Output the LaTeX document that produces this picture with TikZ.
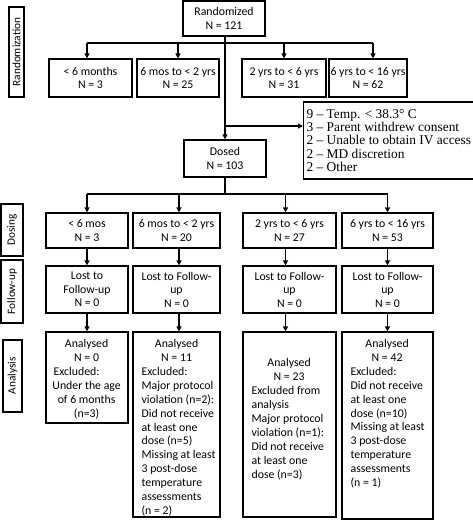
\documentclass[tikz,border=0pt]{standalone}
\usepackage{fontspec}
\setmainfont{Carlito}
\newfontfamily\tnr[Ligatures=TeX]{Liberation Serif}
\usetikzlibrary{arrows.meta,calc}
\begin{document}
\begin{tikzpicture}[x=1pt,y=-1pt,
  box/.style={draw, line width=1.2pt, inner sep=0pt, align=center, font=\fontsize{11.8}{13.5}\selectfont},
  side/.style={draw, line width=1.2pt, inner sep=0pt, rotate=90, font=\fontsize{11.3}{13}\selectfont},
  txt/.style={anchor=north west, inner sep=0pt, align=left, font=\fontsize{11.8}{13.95}\selectfont},
  arr/.style={line width=1.2pt, -{Triangle[length=5pt,width=5pt]}},
  ln/.style={line width=1.2pt}]
\useasboundingbox (0,0) rectangle (473,520);

% side labels
\node[side, minimum width=90pt, minimum height=15pt] (sr) at (16.5,52) {Randomization};
\node[side, minimum width=52pt, minimum height=22pt] (sd) at (12,230) {Dosing};
\node[side, minimum width=63pt, minimum height=22pt] (sf) at (12,291.5) {Follow-up};
\node[side, minimum width=72pt, minimum height=19pt] (sa) at (12.5,376) {Analysis};

% randomization
\node[box, minimum width=82pt, minimum height=35pt] (rand) at (224,18.5) {Randomized\\N = 121};
\node[box, minimum width=83pt, minimum height=38pt] (r1) at (90.5,78) {< 6 months\\N = 3};
\node[box, minimum width=82pt, minimum height=38pt] (r2) at (178,78) {6 mos to < 2 yrs\\N = 25};
\node[box, minimum width=84pt, minimum height=38pt] (r3) at (284,78) {2 yrs to < 6 yrs\\N = 31};
\node[box, minimum width=78pt, minimum height=38pt] (r4) at (368,78) {6 yrs to < 16 yrs\\N = 62};

\node[box, minimum width=82pt, minimum height=37pt] (dosed) at (225,158.5) {Dosed\\N = 103};

\node[draw, line width=1.2pt, anchor=west, minimum width=169pt, minimum height=77pt,
      inner xsep=3pt, inner ysep=0pt, align=left,
      font=\tnr\fontsize{13.4}{13.3}\selectfont] (excl) at (303,140.5)
  {9 – Temp. < 38.3° C\\3 – Parent withdrew consent\\2 – Unable to obtain IV access\\2 – MD discretion\\2 – Other};

% dosing row
\node[box, minimum width=82pt, minimum height=35pt] (d1) at (87,230.5) {< 6 mos\\N = 3};
\node[box, minimum width=87pt, minimum height=35pt] (d2) at (176.5,230.5) {6 mos to < 2 yrs\\N = 20};
\node[box, minimum width=93pt, minimum height=35pt] (d3) at (289.5,230.5) {2 yrs to < 6 yrs\\N = 27};
\node[box, minimum width=91pt, minimum height=35pt] (d4) at (387.5,230.5) {6 yrs to < 16 yrs\\N = 53};

% follow-up row
\node[box, minimum width=82pt, minimum height=47pt] (l1) at (87,289.5) {Lost to\\Follow-up\\N = 0};
\node[box, minimum width=87pt, minimum height=47pt] (l2) at (176.5,289.5) {Lost to Follow-\\up\\N = 0};
\node[box, minimum width=93pt, minimum height=47pt] (l3) at (289.5,289.5) {Lost to Follow-\\up\\N = 0};
\node[box, minimum width=91pt, minimum height=47pt] (l4) at (387.5,289.5) {Lost to Follow-\\up\\N = 0};

% analysis row
\node[box, minimum width=82pt, minimum height=91pt] (a1) at (87,377.5) {};
\node[box, minimum width=87pt, minimum height=185pt] (a2) at (176.5,424.5) {};
\node[box, minimum width=93pt, minimum height=185pt] (a3) at (289.5,424.5) {};
\node[box, minimum width=91pt, minimum height=187pt] (a4) at (387.5,425.5) {};

\node[txt] (t1) at ($(a1.north west)+(8,7.5)$)
  {\makebox[66pt]{Analysed}\\\makebox[66pt]{N = 0}\\Excluded:\\\makebox[66pt]{Under the age}\\\makebox[66pt]{of 6 months}\\\makebox[66pt]{(n=3)}};
\node[txt] (t2) at ($(a2.north west)+(9,7.5)$)
  {\makebox[70pt]{Analysed}\\\makebox[70pt]{N = 11}\\Excluded:\\Major protocol\\violation (n=2):\\Did not receive\\at least one\\dose (n=5)\\Missing at least\\3 post-dose\\temperature\\assessments\\(n = 2)};
\node[txt] (t3) at ($(a3.north west)+(9,27)$)
  {\makebox[75pt]{Analysed}\\\makebox[75pt]{N = 23}\\Excluded from\\analysis\\Major protocol\\violation (n=1):\\Did not receive\\at least one\\dose (n=3)};
\node[txt] (t4) at ($(a4.north west)+(9,7.5)$)
  {\makebox[73pt]{Analysed}\\\makebox[73pt]{N = 42}\\Excluded:\\Did not receive\\at least one\\dose (n=10)\\Missing at least\\3 post-dose\\temperature\\assessments\\(n = 1)};

% connectors: randomization
\coordinate (hb) at (0,43);
\draw[ln] ([xshift=-3.5pt]r1.north |- hb) -- ([xshift=5pt]r4.north |- hb);
\draw[arr] ([xshift=-3.5pt]r1.north |- hb) -- ([xshift=-3.5pt]r1.north);
\draw[arr] (r2.north |- hb) -- (r2.north);
\draw[arr] (r3.north |- hb) -- (r3.north);
\draw[arr] ([xshift=5pt]r4.north |- hb) -- ([xshift=5pt]r4.north);
\draw[arr] ([xshift=1pt]rand.south) -- (dosed.north);
\coordinate (br) at (0,126);
\draw[arr] ([xshift=1pt]rand.south |- br) -- (excl.west |- br);

% connectors: dosing
\coordinate (hb2) at (0,194);
\draw[ln] (dosed.south) -- (dosed.south |- hb2);
\draw[ln] (d1.north |- hb2) -- (d4.north |- hb2);
\draw[arr] (d1.north |- hb2) -- (d1.north);
\draw[arr] ([xshift=2.5pt]d2.north |- hb2) -- ([xshift=2.5pt]d2.north);
\draw[arr] ([xshift=-4pt]d3.north |- hb2) -- ([xshift=-4pt]d3.north);
\draw[arr] (d4.north |- hb2) -- (d4.north);

\draw[arr] (d1.south) -- (l1.north);
\draw[arr] ([xshift=2.5pt]d2.south) -- ([xshift=2.5pt]l2.north);
\draw[arr] ([xshift=-4pt]d3.south) -- ([xshift=-4pt]l3.north);
\draw[arr] (d4.south) -- (l4.north);

\draw[arr] (l1.south) -- (a1.north);
\draw[arr] ([xshift=2.5pt]l2.south) -- ([xshift=2.5pt]a2.north);
\draw[arr] ([xshift=-4pt]l3.south) -- ([xshift=-4pt]a3.north);
\draw[arr] (l4.south) -- (a4.north);
\end{tikzpicture}
\end{document}
